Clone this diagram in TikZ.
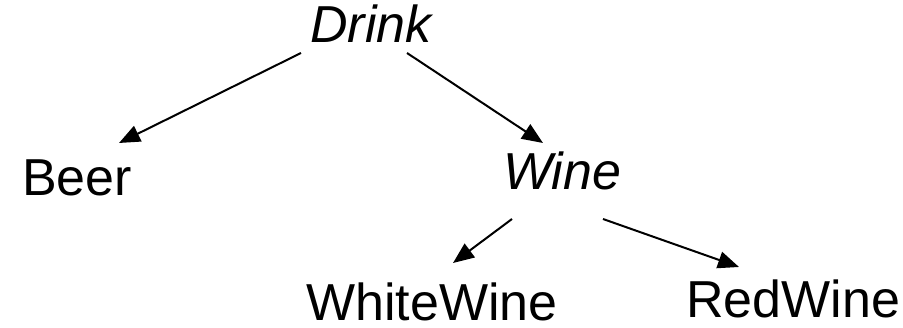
\documentclass[tikz,border=0pt]{standalone}
\usepackage{fontspec}
\setmainfont{Liberation Sans}
\usetikzlibrary{arrows.meta,calc}
\tikzset{
  term/.style={anchor=base west, inner sep=0pt, font=\fontsize{52}{60}\selectfont},
  concept/.style={term, font=\fontsize{52}{60}\selectfont\itshape},
  isa/.style={line width=2pt, -{Triangle[length=21pt,width=17pt]}}
}
\begin{document}
\begin{tikzpicture}[x=1pt,y=-1pt]
  \useasboundingbox (0,0) rectangle (903,328);
  % class hierarchy
  \node[concept] (drink) at (310,43) {Drink};
  \node[term]    (beer)  at (22,196) {Beer};
  \node[concept] (wine)  at (503,190) {Wine};
  \node[term]    (white) at (306,321) {WhiteWine};
  \node[term]    (red)   at (686,318) {RedWine};
  % subclass links
  \draw[isa] ($(drink.base west)+(-9,10)$) -- ($(beer.base west)+(97,-53)$);
  \draw[isa] ($(drink.base west)+(97,10)$) -- ($(wine.base west)+(40,-47)$);
  \draw[isa] ($(wine.base west)+(9,29)$) -- ($(white.base west)+(147,-58)$);
  \draw[isa] ($(wine.base west)+(100,29)$) -- ($(red.base west)+(53,-51)$);
\end{tikzpicture}
\end{document}
